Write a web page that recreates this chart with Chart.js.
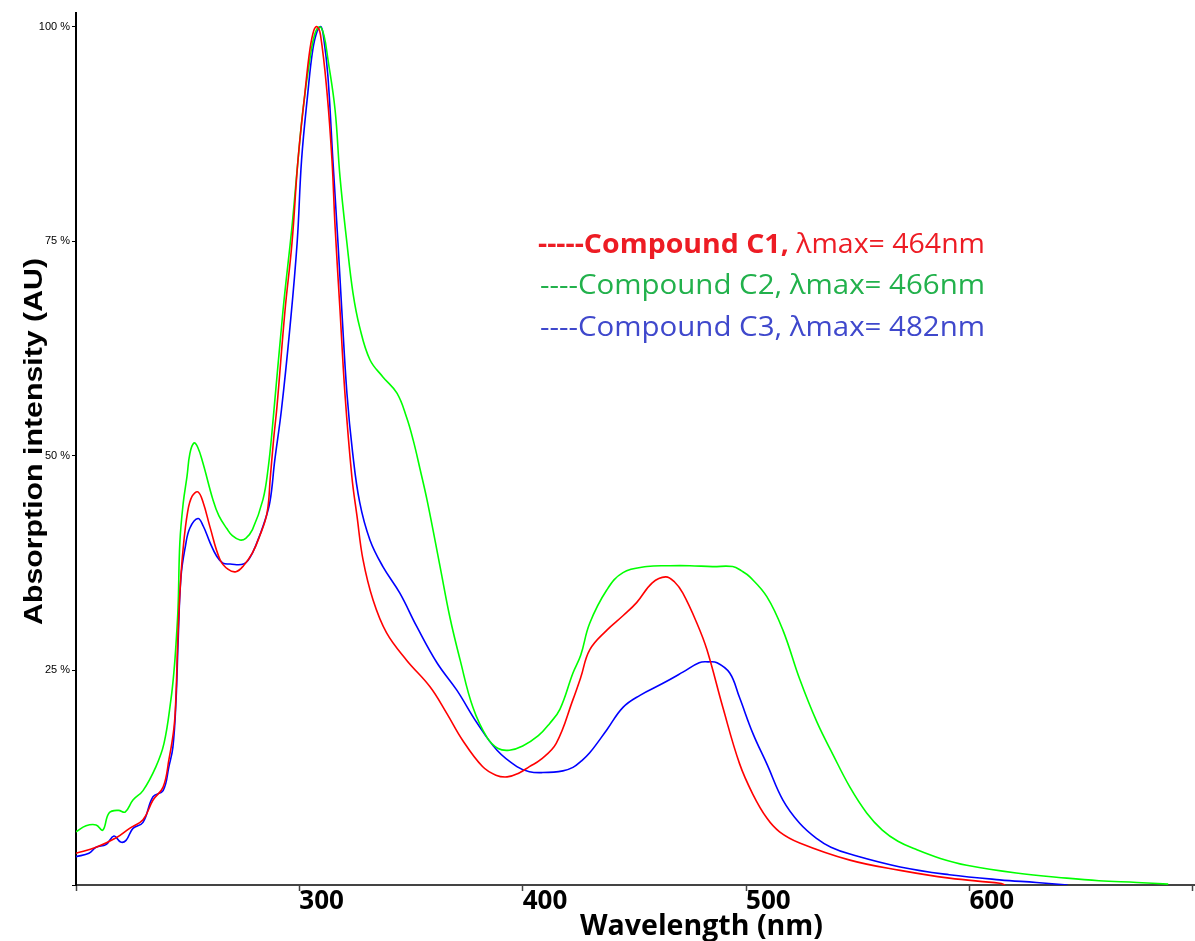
<!DOCTYPE html>
<html>
<head>
<meta charset="utf-8">
<script src="https://cdn.jsdelivr.net/npm/chart.js@4.4.1/dist/chart.umd.min.js"></script>
<style>
  html, body { margin: 0; padding: 0; background: #fff; }
  #wrap { width: 1195px; height: 941px; position: relative; }
</style>
</head>
<body>
<div id="wrap"><canvas id="canvas"></canvas></div>
<script>
// UV-Vis absorption spectra, normalised to the 300 nm band (percent)
const c1Wavelength = [200, 209, 218, 224, 230, 234.5, 239, 241.6, 243.9, 244.8, 245.5, 246.5, 247.9, 250, 252, 254.6, 257, 260, 264.5, 268, 271.6, 275, 279, 282, 285.5, 287, 288.5, 290, 293.6, 296.7, 299.4, 302.5, 304.7, 306.5, 307.9, 309.5, 312.4, 314.6, 316, 318.2, 320.4, 323.5, 325.8, 328.5, 333, 339, 348, 358.5, 366, 373, 382, 388, 393, 398, 403, 408, 415, 422.5, 426, 430, 437.7, 445, 451, 458, 464, 468, 471.7, 478, 482.5, 489.6, 497, 503, 509.3, 515, 524, 546.5, 569, 591, 613.6, 616];
const c1Absorbance = [3.7, 4.4, 5.5, 6.6, 7.6, 9.9, 11.4, 14.6, 18.4, 22.4, 28, 34, 39, 43.5, 45.3, 45.8, 44.5, 41.7, 37.9, 36.8, 36.5, 37.2, 38.7, 40.5, 43.3, 47.5, 52, 55.8, 67, 74.8, 84.5, 92.3, 97.3, 99.6, 100, 99, 92.3, 84.5, 76.7, 67, 57.3, 47.6, 43, 37.9, 33.2, 29.4, 26.2, 23.1, 20, 16.9, 13.8, 12.8, 12.6, 13, 13.8, 14.6, 16.5, 21.6, 24.2, 27.4, 29.7, 31.4, 32.9, 35.2, 35.9, 35.3, 34, 30.5, 27.4, 20.7, 14.2, 10.6, 7.8, 6.2, 4.9, 2.9, 1.7, 0.8, 0.2, 0];

const c2Wavelength = [200, 204.5, 209, 212, 214.8, 219, 222, 225.5, 230, 235.8, 239.4, 242.5, 243.9, 244.8, 245.7, 246.5, 248, 249.7, 251, 252.8, 254.5, 256.8, 261.3, 264, 267.6, 270, 273.4, 276, 279, 283.7, 286, 288, 292.7, 296.7, 299, 301.6, 304.7, 307, 309.2, 311, 312.8, 316, 318.2, 321.3, 324, 327, 331.6, 337.4, 343.7, 348, 351, 354, 357.3, 363, 367.4, 372, 377.7, 384, 389, 394, 400, 407, 412, 416.7, 422.5, 426, 430, 437.7, 444.9, 455.6, 466, 474.8, 485, 494, 498, 501.7, 509.3, 516.5, 524, 531.7, 538.9, 546.5, 554, 561, 568, 576.5, 587, 598.8, 621, 643.6, 658, 675, 689];
const c2Absorbance = [6.2, 6.9, 7.0, 6.4, 8.4, 8.7, 8.5, 9.9, 11, 13.8, 16.5, 21.6, 25, 28.2, 32.4, 39.9, 44.5, 47.6, 50.3, 51.5, 51, 49.2, 44.9, 43.0, 41.5, 40.7, 40.2, 40.4, 41.4, 44.9, 48.5, 53.5, 67, 76.7, 83.3, 90.3, 96.2, 99.2, 100, 99, 96.2, 90.3, 82.5, 74.8, 69, 65, 61.2, 59.2, 57.3, 54.5, 51.8, 48.5, 44.7, 37.1, 31.2, 26.2, 20.7, 17.2, 15.9, 15.7, 16.2, 17.4, 18.8, 20.5, 24.7, 26.8, 30.5, 34.4, 36.4, 37.1, 37.2, 37.2, 37.1, 37.1, 36.6, 35.9, 33.6, 29.7, 24, 19, 15.2, 11.4, 8.4, 6.4, 5.1, 4.1, 3.1, 2.3, 1.4, 0.8, 0.5, 0.3, 0.1];

const c3Wavelength = [200, 205.8, 209, 213.4, 217, 220, 222.4, 225.5, 230, 234.5, 239, 241.6, 243.4, 244.8, 245.7, 247, 249, 251, 254.6, 257, 260, 263, 265.8, 269, 275, 278, 281, 284, 286.8, 289, 292, 295.8, 299, 301, 303.8, 306, 308, 309.7, 311, 312.8, 315, 317.3, 319, 321.3, 323.8, 327, 331.6, 337.4, 345, 352.6, 361.6, 370.5, 379.5, 388.5, 397.4, 403, 409, 418, 422.5, 426, 430, 437.7, 444.9, 452.5, 462.8, 471.7, 479, 483, 487, 492.7, 497, 503, 509.5, 516.5, 524, 531.7, 538, 546.5, 569, 591, 613.6, 630, 644];
const c3Absorbance = [3.3, 3.7, 4.4, 4.7, 5.7, 5.0, 5.2, 6.6, 7.3, 10.3, 11, 13.8, 16.1, 21.6, 28.2, 35.9, 39.5, 41.6, 42.7, 41.8, 39.9, 38.3, 37.5, 37.4, 37.4, 38.2, 39.9, 42, 44.6, 49.5, 55.4, 65, 74.8, 84.5, 92.3, 97.3, 99.5, 100, 98.5, 94.2, 84.5, 74.8, 67, 57.3, 50.5, 44.6, 40.2, 37.1, 34, 30.1, 25.9, 22.7, 18.9, 15.7, 13.8, 13.2, 13.1, 13.3, 13.7, 14.4, 15.4, 18.1, 20.7, 22.1, 23.5, 24.8, 25.9, 26, 25.9, 24.7, 21.9, 17.7, 14, 9.9, 7.2, 5.4, 4.4, 3.6, 2.1, 1.2, 0.6, 0.3, 0];

const compounds = ['Compound C1', 'Compound C2', 'Compound C3'];
const lambdaMax = [464, 466, 482];
const legendDashes = ['-----', '----', '----'];

const xTickValues = [200, 300, 400, 500, 600, 700];
const xTickLabels = ['', '300', '400', '500', '600', ''];
const yTickValues = [0, 25, 50, 75, 100];
const yTickLabels = ['', '25 %', '50 %', '75 %', '100 %'];

const lineColors = ['rgb(255, 0, 0)', 'rgb(0, 255, 0)', 'rgb(0, 0, 255)'];
const textColors = ['#ed1c24', '#22b14c', '#3f48cc'];

function toPoints(xs, ys) {
  return xs.map((x, i) => ({ x: x, y: ys[i] }));
}

const data = {
  datasets: [
    { label: compounds[0], data: toPoints(c1Wavelength, c1Absorbance), borderColor: lineColors[0] },
    { label: compounds[1], data: toPoints(c2Wavelength, c2Absorbance), borderColor: lineColors[1] },
    { label: compounds[2], data: toPoints(c3Wavelength, c3Absorbance), borderColor: lineColors[2] }
  ].map(ds => Object.assign(ds, {
    borderWidth: 1.6,
    pointRadius: 0,
    fill: false,
    tension: 0.4
  }))
};

// draws a run of differently styled text pieces squeezed/stretched to a given width
function drawFitted(ctx, parts, x, y, width) {
  let natural = 0;
  parts.forEach(p => { ctx.font = p.font; natural += ctx.measureText(p.text).width; });
  const sx = width / natural;
  ctx.save();
  ctx.translate(x, y);
  ctx.scale(sx, 1);
  let cx = 0;
  parts.forEach(p => {
    ctx.font = p.font;
    ctx.fillStyle = p.color;
    ctx.fillText(p.text, cx, 0);
    cx += ctx.measureText(p.text).width;
  });
  ctx.restore();
}

const annotations = {
  id: 'annotations',
  afterDraw(chart) {
    const ctx = chart.ctx;
    ctx.save();
    ctx.textBaseline = 'alphabetic';
    ctx.textAlign = 'left';

    // legend block written as coloured text
    const baselines = [253, 294, 336];
    const starts = [538, 540, 540];
    compounds.forEach((name, i) => {
      const normal = '27px "Open Sans"';
      const bold = 'bold 27px "Open Sans"';
      const head = legendDashes[i] + name + ',';
      const tail = ' \u03bbmax= ' + lambdaMax[i] + 'nm';
      drawFitted(ctx, [
        { text: head, font: i === 0 ? bold : normal, color: textColors[i] },
        { text: tail, font: normal, color: textColors[i] }
      ], starts[i], baselines[i], 985 - starts[i]);
    });

    // axis titles
    drawFitted(ctx, [{ text: 'Wavelength (nm)', font: 'bold 28px "Open Sans"', color: '#000' }], 580, 935, 243);

    ctx.save();
    ctx.translate(42, 625);
    ctx.rotate(-Math.PI / 2);
    drawFitted(ctx, [{ text: 'Absorption intensity (AU)', font: 'bold 26px "Liberation Sans"', color: '#000' }], 0, 0, 367);
    ctx.restore();

    ctx.restore();
  }
};

const config = {
  type: 'line',
  data: data,
  plugins: [annotations],
  options: {
    responsive: true,
    maintainAspectRatio: false,
    animation: false,
    devicePixelRatio: 1,
    layout: { padding: { top: 13, right: 0, left: 0, bottom: 0 } },
    plugins: {
      legend: { display: false },
      tooltip: { enabled: false }
    },
    scales: {
      x: {
        type: 'linear',
        min: 200,
        max: 701,
        afterBuildTicks: scale => { scale.ticks = xTickValues.map(v => ({ value: v })); },
        afterFit: scale => { scale.height = 56; },
        ticks: {
          align: 'start',
          autoSkip: false,
          maxRotation: 0,
          padding: 0,
          color: '#000',
          font: { family: 'Open Sans', weight: 'bold', size: 26, lineHeight: 0.8 },
          callback: value => xTickLabels[xTickValues.indexOf(value)]
        },
        grid: { display: true, drawOnChartArea: false, drawTicks: true, tickLength: 6, tickColor: '#444', tickWidth: 1.5 },
        border: { display: true, color: '#444', width: 2 }
      },
      y: {
        min: 0,
        max: 101.6,
        afterBuildTicks: scale => { scale.ticks = yTickValues.map(v => ({ value: v })); },
        afterFit: scale => { scale.width = 76; },
        ticks: {
          padding: 2,
          color: '#000',
          font: { family: 'Liberation Sans', size: 11 },
          callback: value => yTickLabels[yTickValues.indexOf(value)]
        },
        grid: { display: true, drawOnChartArea: false, drawTicks: true, tickLength: 4, tickColor: '#000', tickWidth: 1 },
        border: { display: true, color: '#000', width: 2 }
      }
    }
  }
};

const ctx = document.getElementById('canvas');
let spectrumChart = new Chart(ctx, config);
</script>
</body>
</html>
